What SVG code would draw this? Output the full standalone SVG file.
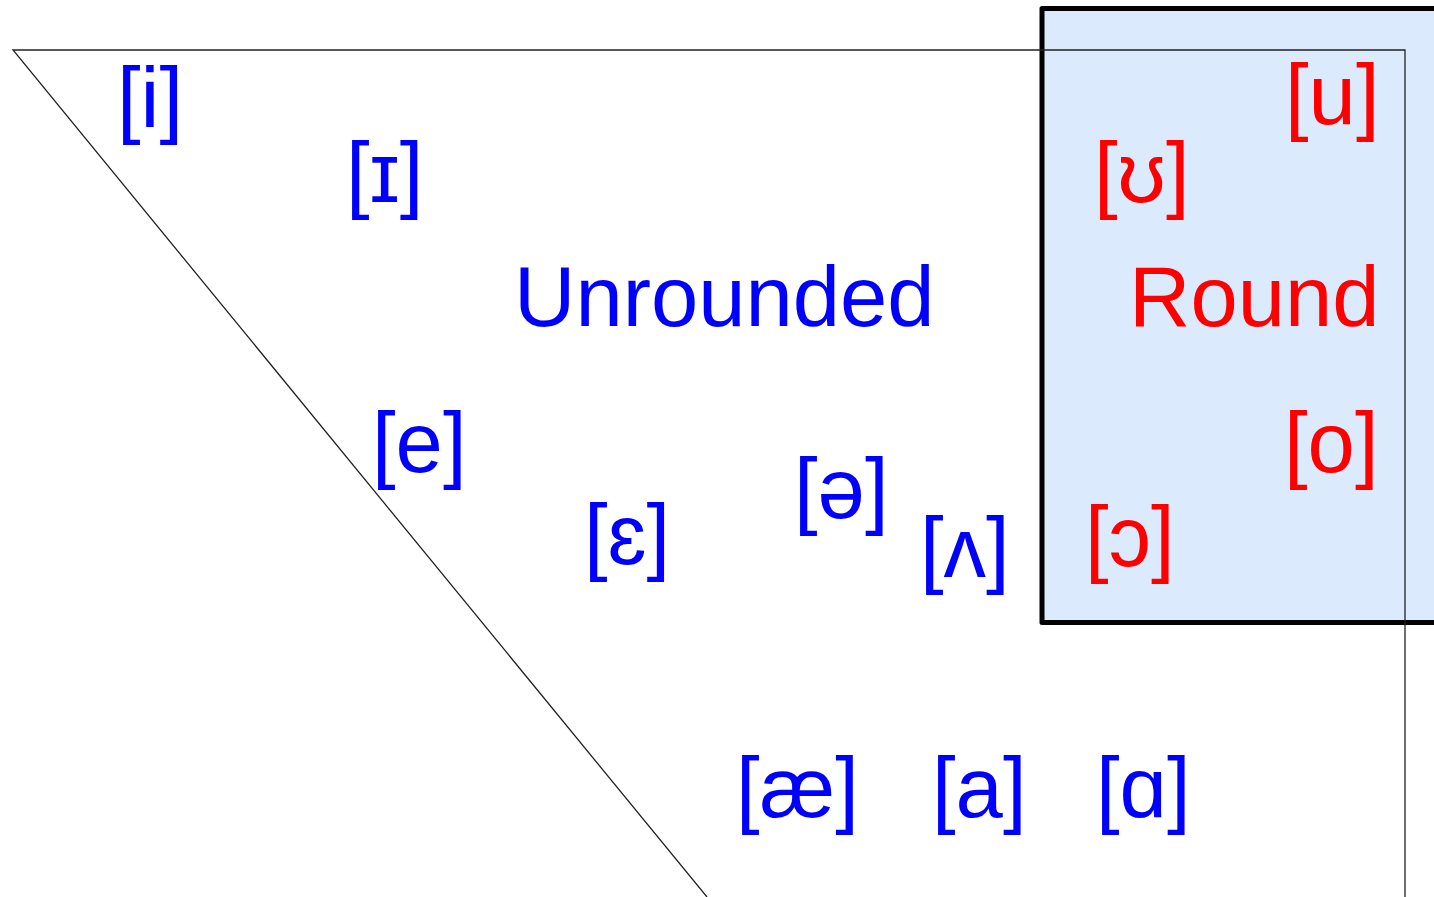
<svg xmlns="http://www.w3.org/2000/svg" width="1434" height="897" viewBox="0 0 1434 897">
<style>
.t{font-family:"Liberation Sans",Arial,sans-serif;font-size:85px}
.b{fill:#0000ff}
.r{fill:#ff0000}
.ln{fill:none;stroke:#222;stroke-width:1.3}
</style>
<rect width="1434" height="897" fill="#fff"/>
<g id="round-box">
<rect x="1042" y="8.5" width="500" height="614" fill="#dbeafd" stroke="#000" stroke-width="5" stroke-linejoin="round"/>
</g>
<g id="connectors">
<polyline class="ln" points="707,897 13,50 1405,50 1405,897"/>
</g>
<g id="v-i"><text class="t b" x="117" y="127">[i]</text></g>
<g id="v-I"><text class="t b" x="346" y="202">[ɪ]</text></g>
<g id="unrounded"><text class="t b" x="514" y="326">Unrounded</text></g>
<g id="v-e"><text class="t b" x="372" y="472">[e]</text></g>
<g id="v-epsilon"><text class="t b" x="584" y="564">[ɛ]</text></g>
<g id="v-schwa"><text class="t b" x="794" y="518">[ə]</text></g>
<g id="v-wedge"><text class="t b" x="920" y="577">[ʌ]</text></g>
<g id="v-ae"><text class="t b" x="736" y="817">[æ]</text></g>
<g id="v-a"><text class="t b" x="932" y="817">[a]</text></g>
<g id="v-alpha"><text class="t b" x="1096" y="817">[ɑ]</text></g>
<g id="v-u"><text class="t r" x="1285" y="124">[u]</text></g>
<g id="v-upsilon"><text class="t r" x="1094" y="202">[ʊ]</text></g>
<g id="round"><text class="t r" x="1129" y="326">Round</text></g>
<g id="v-o"><text class="t r" x="1284" y="472">[o]</text></g>
<g id="v-openo"><text class="t r" x="1085" y="566">[ɔ]</text></g>
</svg>
